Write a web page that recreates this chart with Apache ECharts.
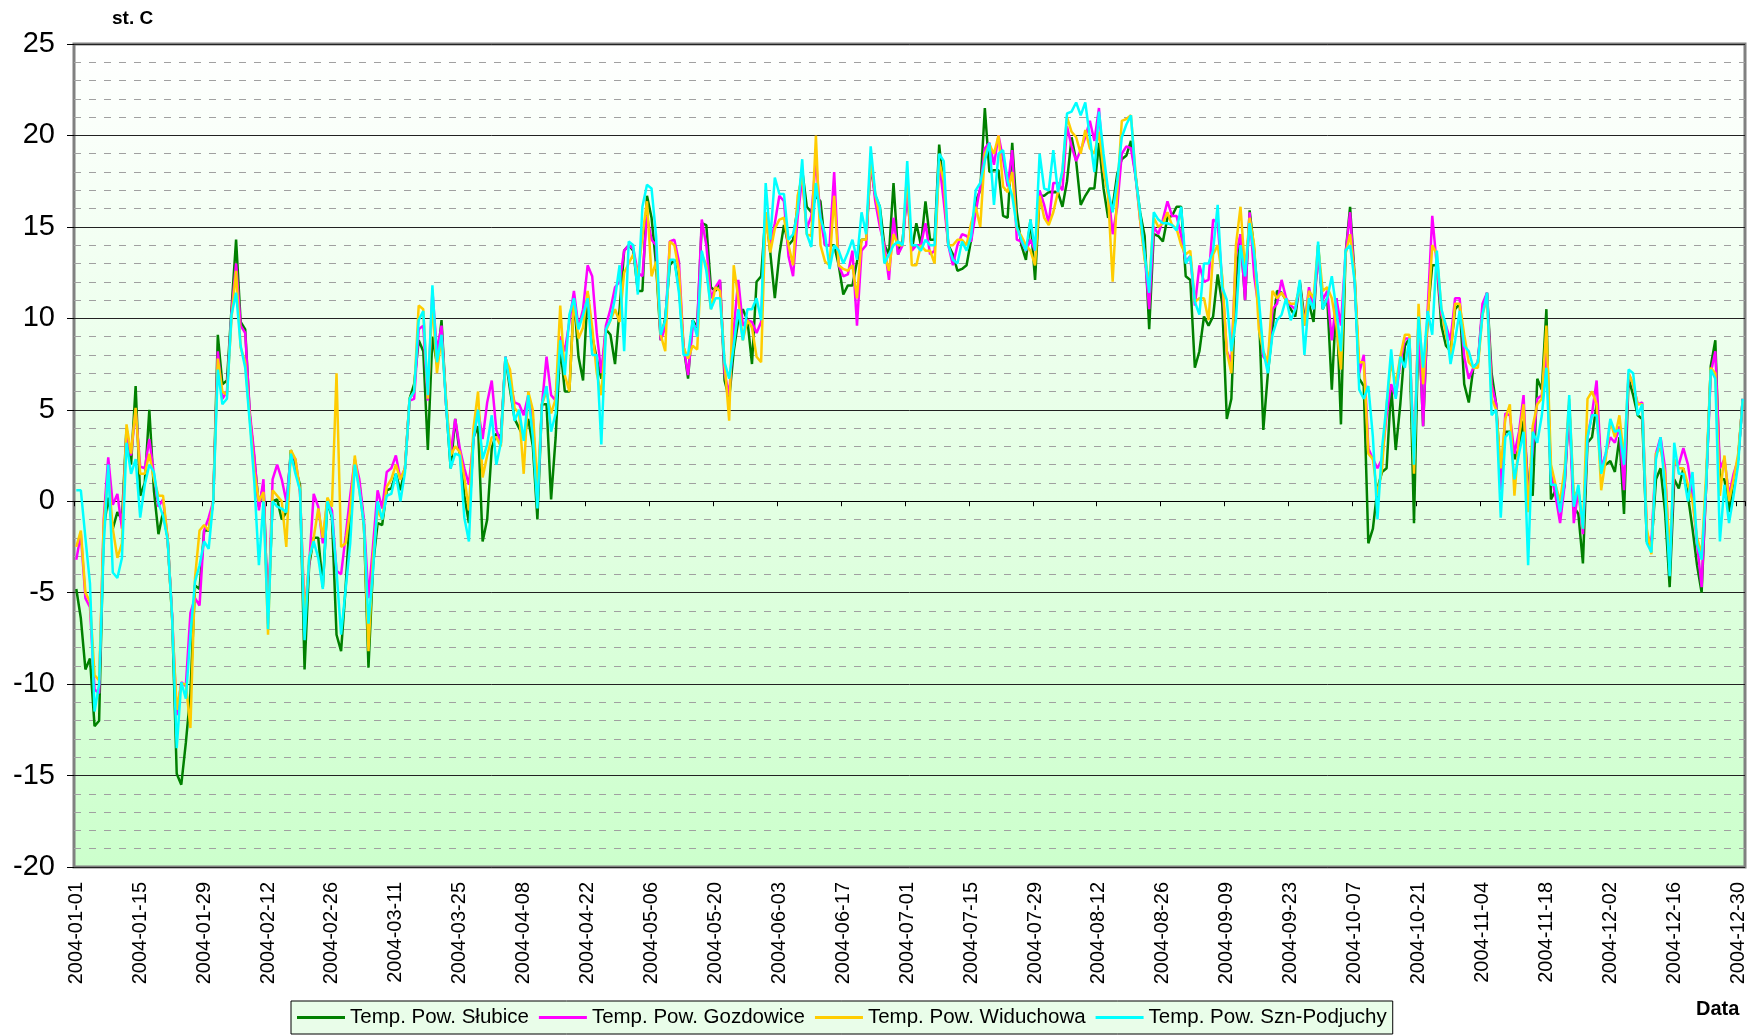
<!DOCTYPE html>
<html>
<head>
<meta charset="utf-8">
<title>Temperatura powietrza 2004</title>
<script src="https://cdn.jsdelivr.net/npm/echarts@6.0.0/dist/echarts.min.js"></script>
<style>
  html, body { margin: 0; padding: 0; background: #fff; }
  #chart { width: 1757px; height: 1036px; }
</style>
</head>
<body>
<div id="chart"></div>
<script>
// daty: 2004-01-01 .. 2004-12-31 (rok przestępny, 366 dni)
const dates = [];
for (let i = 0; i < 366; i++) {
  dates.push(new Date(Date.UTC(2004, 0, 1 + i)).toISOString().slice(0, 10));
}

const seriesNames = ['Temp. Pow. Słubice', 'Temp. Pow. Gozdowice', 'Temp. Pow. Widuchowa', 'Temp. Pow. Szn-Podjuchy'];
const seriesColors = ['#008000', '#ff00ff', '#ffcc00', '#00ffff'];

// odczyty dzienne (st. C)
const slubice = [
  -4.8, -6.4, -9.2, -8.6, -12.3, -12.0, -1.5, 0.2, -1.5, -0.6,
  -1.0, 4.0, 2.0, 6.3, 0.3, 1.0, 5.0, 0.6, -1.8, -0.6,
  -2.0, -6.4, -14.9, -15.5, -13.2, -10.5, -4.6, -4.8, -1.6, -1.6,
  0, 9.1, 6.4, 6.6, 10.5, 14.3, 9.8, 9.4, 4.7, 2.3,
  -0.3, 0.9, -6.4, 0, 0.1, -1.0, -0.6, 2.8, 1.8, 0.9,
  -9.2, -3.5, -2.0, -2.0, -4.7, 0, -0.9, -7.3, -8.2, -4.7,
  -0.5, 2.0, 1.0, -1.3, -9.1, -3.5, -1.2, -1.3, 0.6, 0.7,
  1.5, 0.6, 1.8, 5.6, 6.4, 8.8, 8.2, 2.8, 9.0, 7.5,
  9.9, 5.3, 1.8, 4.5, 2.6, 0.3, -1.2, 3.5, 4.1, -2.2,
  -1.0, 2.9, 3.7, 3.5, 7.9, 6.1, 4.5, 4.0, 3.5, 4.5,
  3.0, -1.0, 5.3, 5.3, 0.1, 3.5, 8.5, 6.0, 6.0, 11.1,
  7.9, 6.6, 11.4, 9.0, 7.8, 6.7, 9.4, 9.1, 7.5, 10.5,
  13.7, 14.0, 13.7, 11.5, 11.5, 16.7, 15.5, 12.9, 8.8, 10.0,
  12.9, 13.2, 11.7, 8.5, 6.7, 9.9, 9.5, 15.2, 15.1, 11.7,
  11.5, 12.0, 6.6, 5.6, 8.2, 9.9, 10.5, 9.9, 7.5, 12.0,
  12.3, 15.8, 13.6, 11.1, 13.5, 15.1, 14.0, 14.3, 16.1, 18.1,
  16.1, 15.8, 16.7, 16.4, 14.0, 14.0, 14.0, 12.9, 11.3, 11.8,
  11.8, 13.1, 14.3, 14.3, 18.4, 16.7, 16.1, 14.0, 13.5, 17.4,
  13.5, 14.3, 17.0, 13.7, 15.2, 14.0, 16.4, 14.3, 14.3, 19.5,
  17.0, 14.0, 13.5, 12.6, 12.7, 12.9, 14.3, 16.4, 17.0, 21.5,
  18.0, 18.1, 18.1, 15.6, 15.5, 19.6, 15.8, 14.0, 13.2, 15.4,
  12.1, 16.7, 16.7, 16.9, 16.9, 16.9, 16.1, 17.5, 19.9, 18.6,
  16.2, 16.7, 17.1, 17.1, 19.6, 17.1, 15.5, 16.1, 17.9, 18.7,
  18.9, 19.7, 17.8, 15.8, 14.5, 9.4, 14.6, 14.5, 14.2, 15.5,
  15.6, 16.1, 16.1, 12.3, 12.1, 7.3, 8.2, 10.1, 9.6, 10.1,
  12.4, 10.8, 4.5, 5.6, 12.0, 14.6, 11.0, 15.9, 13.7, 10.5,
  3.9, 7.0, 9.4, 11.5, 11.4, 11.0, 10.5, 10.1, 12.0, 10.0,
  10.8, 9.8, 14.0, 10.5, 11.1, 6.1, 11.1, 4.2, 13.5, 16.1,
  12.3, 6.7, 6.3, -2.3, -1.5, 0.7, 1.6, 1.8, 6.3, 2.8,
  5.3, 8.5, 8.9, -1.2, 10.0, 4.1, 10.2, 12.9, 12.9, 9.6,
  8.5, 8.2, 10.5, 10.8, 6.4, 5.4, 7.3, 7.6, 10.5, 11.4,
  7.0, 5.3, 1.2, 3.8, 3.8, 2.3, 2.9, 4.4, 0.9, 0.3,
  6.7, 6.1, 10.5, 0.1, 0.6, -0.3, 0.9, 5.3, -0.3, -0.7,
  -3.4, 3.2, 3.5, 5.3, 2.0, 2.0, 2.2, 1.6, 3.5, -0.7,
  6.7, 5.8, 4.7, 4.5, -2.2, -2.5, 1.2, 1.8, -0.6, -4.7,
  1.2, 0.7, 1.8, 0.3, -1.5, -3.5, -5.0, 0.9, 7.4, 8.8,
  1.2, 1.2, -0.6, 1.2, 2.3, 5.6
];

const gozdowice = [
  -3.2, -1.8, -5.3, -5.8, -10.3, -10.5, -1.0, 2.4, -0.2, 0.4,
  -1.5, 3.8, 2.5, 5.0, 1.9, 1.8, 3.4, 1.5, -0.3, 0.1,
  -2.0, -6.3, -11.7, -9.9, -10.1, -6.1, -5.3, -5.7, -1.6, -0.9,
  0, 8.2, 5.6, 6.0, 10.3, 13.0, 9.6, 9.2, 4.9, 2.5,
  -0.5, 1.2, -6.7, 1.2, 2.0, 1.2, 0, 2.5, 2.3, 0.5,
  -6.1, -3.5, 0.4, -0.3, -2.3, 0.1, -0.5, -3.8, -4.0, -1.9,
  0.3, 2.3, 1.2, -1.0, -5.3, -2.4, 0.6, -0.4, 1.6, 1.8,
  2.5, 1.2, 1.8, 5.5, 5.6, 9.4, 9.6, 5.5, 11.5, 8.2,
  9.6, 5.3, 2.6, 4.5, 2.9, 1.8, 0.9, 3.4, 5.0, 3.4,
  5.4, 6.6, 3.9, 3.2, 7.9, 6.5, 5.4, 5.3, 4.7, 5.8,
  4.5, 0, 5.3, 7.9, 5.8, 5.5, 9.0, 8.2, 9.8, 11.5,
  9.5, 10.5, 12.9, 12.3, 9.2, 7.0, 9.6, 10.5, 11.7, 12.0,
  13.7, 14.0, 13.8, 12.5, 12.3, 15.6, 14.3, 14.0, 8.8, 9.5,
  14.2, 14.3, 13.1, 8.5, 6.9, 9.5, 9.6, 15.4, 14.0, 11.1,
  11.7, 12.1, 7.0, 5.8, 9.4, 12.1, 9.6, 9.9, 9.8, 9.2,
  9.8, 15.8, 14.0, 15.2, 16.7, 16.4, 13.4, 12.3, 15.5, 17.7,
  14.9, 15.6, 18.7, 15.5, 14.0, 14.0, 18.0, 12.9, 12.3, 12.4,
  13.7, 9.6, 13.7, 14.0, 18.6, 16.4, 15.0, 14.0, 12.1, 15.5,
  13.5, 14.0, 17.0, 13.7, 14.0, 14.0, 15.2, 13.5, 13.7, 18.6,
  16.4, 14.0, 12.9, 14.0, 14.6, 14.5, 14.2, 15.8, 17.2, 19.3,
  19.6, 18.4, 20.0, 18.7, 17.2, 19.2, 14.3, 14.2, 13.7, 14.3,
  13.7, 17.0, 16.2, 15.2, 17.4, 17.4, 17.0, 20.5, 19.4, 18.6,
  19.2, 19.9, 20.8, 19.7, 21.5, 18.1, 17.0, 14.6, 16.1, 19.0,
  19.4, 19.3, 17.8, 15.4, 13.5, 10.5, 15.0, 14.6, 15.4, 16.4,
  15.6, 15.6, 14.5, 13.1, 13.4, 10.7, 12.9, 12.0, 12.1, 15.4,
  15.2, 12.0, 8.2, 7.6, 13.5, 14.6, 11.0, 15.8, 12.3, 10.5,
  7.9, 7.6, 10.5, 10.8, 12.1, 11.1, 10.7, 10.5, 11.8, 9.6,
  11.7, 10.5, 13.5, 11.0, 11.5, 8.8, 11.1, 9.6, 13.5, 15.8,
  12.0, 7.0, 8.0, 2.9, 2.3, 1.8, 2.3, 4.7, 6.4, 5.7,
  7.6, 8.9, 8.9, 2.3, 10.0, 4.1, 10.5, 15.6, 12.9, 10.2,
  9.6, 8.8, 11.1, 11.1, 7.9, 6.7, 7.3, 7.6, 10.8, 11.4,
  6.4, 5.3, 0.6, 4.8, 4.7, 2.6, 3.8, 5.8, 0, 2.9,
  5.6, 5.8, 8.2, 1.5, 0.3, -1.2, 0.9, 5.3, -1.2, 0.6,
  -1.8, 3.5, 4.8, 6.6, 1.8, 2.6, 3.5, 3.2, 4.1, 0.6,
  7.0, 6.4, 5.3, 5.4, -1.8, -2.3, 2.6, 3.5, 1.8, -3.5,
  2.0, 2.0, 2.9, 2.0, 0.3, -2.3, -4.7, 0.9, 7.0, 8.2,
  1.8, 2.3, 0.3, 1.5, 2.3, 5.6
];

const widuchowa = [
  -2.5, -1.6, -5.0, -5.5, -9.5, -9.8, -1.2, 1.5, -1.5, -3.1,
  -2.3, 4.2, 2.6, 5.1, 1.5, 1.5, 2.6, 1.2, 0.3, 0.3,
  -2.0, -6.5, -11.4, -10.0, -10.0, -12.4, -4.2, -1.6, -1.3, -1.6,
  0, 7.8, 6.0, 5.8, 10.0, 12.6, 8.4, 7.6, 4.5, 1.6,
  0, 0.5, -7.3, 0.6, 0.3, 0, -2.5, 2.8, 2.3, 0.6,
  -6.5, -3.2, -2.0, -0.4, -2.0, 0.2, -0.3, 7.0, -2.5, -2.3,
  -0.5, 2.5, 0.6, -1.3, -8.2, -3.0, -0.5, -1.0, 0.8, 1.2,
  2.0, 1.2, 1.8, 5.6, 6.0, 10.7, 10.5, 5.6, 11.0, 7.0,
  9.0, 5.6, 2.5, 3.0, 2.7, 1.3, -0.5, 4.0, 6.0, 1.3,
  2.5, 3.5, 3.5, 3.0, 7.8, 7.2, 5.1, 4.8, 1.5, 6.0,
  5.0, 0.6, 5.3, 6.0, 4.8, 5.6, 10.7, 6.9, 6.0, 11.0,
  8.9, 9.5, 11.5, 9.5, 7.0, 5.8, 9.3, 9.9, 10.5, 9.8,
  12.5, 13.0, 13.5, 12.3, 14.5, 16.4, 12.3, 13.1, 9.1, 8.2,
  14.2, 14.0, 12.6, 8.4, 7.8, 8.5, 8.3, 13.5, 12.9, 10.5,
  11.7, 11.5, 7.6, 4.4, 12.9, 11.1, 8.8, 9.9, 9.5, 7.9,
  7.6, 15.8, 13.6, 14.9, 15.4, 15.5, 14.0, 12.9, 16.7, 17.8,
  14.6, 14.5, 20.0, 14.0, 13.1, 12.9, 16.7, 12.9, 12.7, 12.6,
  12.9, 11.1, 14.3, 14.3, 18.7, 16.8, 15.5, 13.5, 12.6, 14.6,
  14.0, 14.0, 18.1, 12.9, 12.9, 14.0, 13.7, 13.7, 13.0, 18.6,
  17.5, 14.0, 14.0, 14.3, 14.3, 14.0, 15.2, 16.1, 15.0, 19.0,
  19.5, 19.0, 20.0, 17.2, 16.9, 18.0, 14.9, 14.5, 14.0, 13.7,
  12.9, 16.7, 15.5, 15.1, 15.8, 16.9, 18.0, 21.0, 20.2, 19.9,
  19.0, 20.3, 19.3, 19.0, 20.2, 18.1, 16.7, 12.0, 16.9, 20.8,
  20.9, 21.1, 18.0, 15.4, 13.2, 12.0, 15.5, 15.0, 15.2, 15.8,
  15.1, 14.9, 14.0, 13.5, 13.7, 10.9, 11.1, 11.1, 9.9, 13.5,
  14.0, 12.3, 8.2, 7.0, 14.0, 16.1, 12.6, 15.5, 14.0, 9.4,
  8.2, 7.6, 11.5, 11.1, 11.4, 11.0, 10.8, 10.8, 11.7, 9.6,
  11.5, 11.1, 14.0, 11.5, 11.7, 11.1, 9.6, 7.2, 13.5, 14.6,
  12.3, 7.6, 7.6, 2.6, 2.3, 0.3, 1.8, 5.3, 7.6, 6.4,
  7.9, 9.1, 9.1, 1.5, 10.8, 6.4, 9.9, 14.0, 13.5, 10.5,
  9.1, 7.9, 10.8, 10.8, 9.1, 7.6, 7.3, 7.3, 10.2, 11.1,
  5.6, 5.0, 1.8, 4.5, 5.3, 0.3, 3.5, 5.3, -0.6, 4.1,
  5.3, 5.6, 9.6, 2.0, 0.9, 0, 1.8, 5.6, 0.3, 0.6,
  -1.5, 5.6, 6.0, 5.3, 0.6, 2.3, 4.4, 3.5, 4.7, 2.3,
  7.0, 6.4, 5.3, 5.3, -1.5, -2.9, 2.6, 2.9, 1.5, -2.9,
  2.3, 1.8, 1.8, 0.9, 0, -2.0, -2.9, 1.5, 7.3, 7.0,
  0.3, 2.5, 0, 1.2, 2.6, 5.5
];

const sznPodjuchy = [
  0.6, 0.6, -2.0, -4.5, -11.5, -10.0, -2.5, 2.0, -3.9, -4.2,
  -3.1, 3.2, 1.5, 2.3, -0.9, 0.9, 2.0, 1.6, -0.1, -0.8,
  -2.1, -6.4, -13.5, -9.9, -10.8, -7.3, -4.4, -3.5, -2.2, -2.6,
  0, 7.2, 5.3, 5.6, 10.2, 11.4, 8.5, 7.3, 4.3, 1.0,
  -3.5, 0, -7.0, 0, -0.3, -0.4, -0.6, 2.6, 1.5, 0.6,
  -7.6, -3.1, -2.2, -3.1, -4.8, 0, -0.8, -3.8, -7.3, -4.8,
  -2.3, 2.0, 0.6, -1.3, -6.7, -3.8, 0, -1.0, 0.3, 0.4,
  1.5, 0, 1.6, 5.6, 6.0, 9.9, 10.4, 5.8, 11.8, 7.6,
  9.1, 5.3, 1.8, 2.6, 2.5, -0.9, -2.2, 3.4, 5.0, 2.3,
  3.1, 4.7, 2.0, 3.2, 7.9, 6.4, 4.4, 5.0, 3.3, 5.8,
  3.5, -0.4, 5.3, 6.3, 3.8, 4.8, 8.8, 6.9, 10.2, 11.1,
  9.4, 10.2, 11.1, 8.0, 8.0, 3.1, 9.4, 9.9, 11.1, 12.9,
  8.2, 14.2, 14.0, 11.3, 16.1, 17.3, 17.1, 14.5, 9.1, 9.9,
  13.2, 13.2, 11.4, 8.0, 8.0, 9.9, 9.0, 13.7, 12.6, 10.5,
  11.1, 11.1, 7.6, 6.7, 8.5, 10.5, 8.8, 10.5, 10.5, 11.1,
  9.9, 17.4, 14.3, 17.7, 16.8, 16.8, 14.3, 14.6, 15.8, 18.7,
  14.6, 13.9, 17.4, 15.5, 14.6, 12.7, 14.0, 13.7, 13.0, 13.6,
  14.3, 13.2, 15.8, 14.6, 19.4, 16.8, 16.1, 13.0, 13.5, 14.0,
  14.2, 14.0, 18.6, 14.0, 14.0, 13.7, 14.3, 14.0, 14.0, 19.0,
  18.6, 14.0, 13.2, 13.0, 14.2, 13.7, 14.5, 17.0, 17.4, 18.6,
  19.6, 16.2, 19.0, 19.2, 17.5, 16.7, 15.0, 14.3, 13.7, 15.4,
  13.7, 19.0, 17.1, 17.0, 19.2, 16.9, 18.1, 21.2, 21.3, 21.8,
  21.1, 21.8, 19.9, 18.0, 21.3, 19.0, 17.0, 15.8, 17.5, 19.9,
  20.6, 21.1, 17.8, 15.8, 13.5, 11.4, 15.8, 15.4, 15.2, 15.2,
  15.1, 14.8, 16.1, 13.0, 13.4, 10.9, 10.2, 13.0, 13.0, 13.7,
  16.2, 11.7, 11.0, 8.2, 9.9, 14.0, 12.3, 15.2, 13.5, 11.1,
  8.2, 7.0, 9.1, 9.9, 10.2, 11.1, 9.9, 10.5, 12.1, 8.0,
  11.1, 10.5, 14.2, 10.5, 11.1, 12.3, 10.5, 8.2, 13.7, 14.0,
  12.0, 6.1, 5.6, 6.3, 3.5, -1.0, 2.9, 5.3, 8.3, 5.6,
  7.9, 7.3, 8.9, 2.0, 10.1, 7.3, 10.4, 9.1, 13.7, 10.5,
  9.6, 7.5, 8.8, 10.4, 8.5, 8.2, 7.3, 7.6, 10.2, 11.4,
  4.7, 5.0, -0.9, 3.5, 3.8, 1.2, 2.6, 3.8, -3.5, 3.8,
  3.2, 4.7, 7.3, 0.9, 0.9, -0.6, 1.2, 5.8, -0.3, 0.9,
  -1.5, 3.5, 4.7, 4.7, 1.5, 2.6, 4.5, 3.8, 3.9, 2.0,
  7.2, 7.0, 4.7, 5.3, -2.3, -2.8, 2.3, 3.5, 0.6, -4.1,
  3.2, 1.5, 1.5, 0, 1.6, -2.3, -3.2, 0.9, 7.2, 6.7,
  -2.2, 0.9, -1.2, 0.3, 2.0, 5.6
];

const allData = [slubice, gozdowice, widuchowa, sznPodjuchy];

const chart = echarts.init(document.getElementById('chart'));
const fontFamily = 'Liberation Sans, Arial, sans-serif';

const option = {
  animation: false,
  backgroundColor: '#ffffff',
  textStyle: { fontFamily: fontFamily, color: '#000' },
  grid: {
    left: 74,
    right: 12,
    top: 44,
    bottom: 169,
    show: true,
    borderColor: '#808080',
    borderWidth: 3,
    backgroundColor: new echarts.graphic.LinearGradient(0, 0, 0, 1, [
      { offset: 0, color: '#ffffff' },
      { offset: 1, color: '#ccffcc' }
    ])
  },
  legend: {
    data: seriesNames.map((n, i) => ({ name: n, icon: 'rect', itemStyle: { color: seriesColors[i] } })),
    left: 291,
    bottom: 2,
    itemWidth: 48,
    itemHeight: 3,
    itemGap: 10,
    padding: [6, 6, 6, 6],
    borderColor: '#000',
    borderWidth: 1,
    backgroundColor: '#e9fde9',
    textStyle: { fontSize: 20.5, color: '#000', fontFamily: fontFamily }
  },
  graphic: [
    {
      type: 'text', left: 112, top: 9,
      style: { text: 'st. C', font: 'bold 19px ' + fontFamily, fill: '#000' }
    },
    {
      type: 'text', left: 1696, top: 999,
      style: { text: 'Data', font: 'bold 20px ' + fontFamily, fill: '#000' }
    }
  ],
  xAxis: [
    {
      type: 'category',
      data: dates,
      boundaryGap: true,
      axisLine: { show: false, onZero: false },
      axisTick: { show: false },
      axisLabel: { interval: 13, rotate: 90, fontSize: 20, color: '#000', margin: 15 },
      splitLine: { show: false }
    },
    {
      type: 'category',
      data: dates,
      position: 'top',
      boundaryGap: true,
      axisLine: { show: true, onZero: true, lineStyle: { color: '#000', width: 1 } },
      axisTick: { show: true, interval: 13, inside: true, length: 5, lineStyle: { color: '#000' } },
      axisLabel: { show: false },
      splitLine: { show: false }
    }
  ],
  yAxis: {
    type: 'value',
    min: -20,
    max: 25,
    interval: 5,
    axisLine: { show: false },
    axisTick: { show: true, length: 7, lineStyle: { color: '#000' } },
    axisLabel: { fontSize: 29, color: '#000', margin: 19 },
    splitLine: { show: true, lineStyle: { color: '#222', width: 1 } },
    minorTick: { show: false, splitNumber: 5 },
    minorSplitLine: { show: true, lineStyle: { color: '#a0a0a0', width: 1, type: [7, 8] } }
  },
  series: allData.map((d, i) => ({
    name: seriesNames[i],
    type: 'line',
    xAxisIndex: 0,
    data: d,
    showSymbol: false,
    symbol: 'none',
    lineStyle: { width: 2.5, color: seriesColors[i] },
    itemStyle: { color: seriesColors[i] },
    emphasis: { disabled: true }
  }))
};

chart.setOption(option);
</script>
</body>
</html>
